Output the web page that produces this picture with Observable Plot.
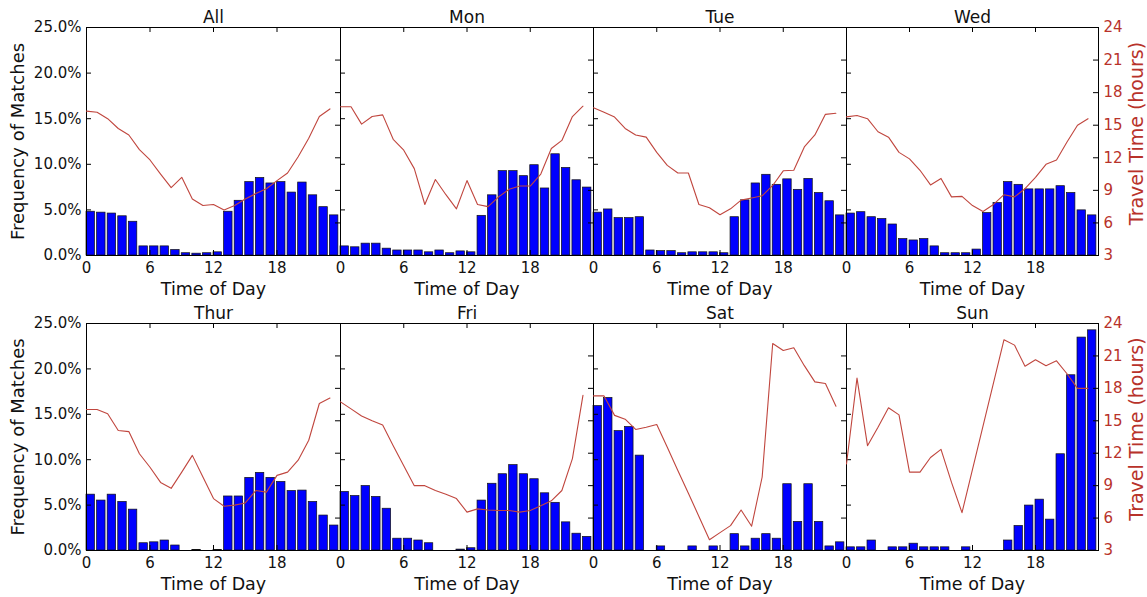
<!DOCTYPE html>
<html>
<head>
<meta charset="utf-8">
<script src="https://cdn.jsdelivr.net/npm/d3@7"></script>
<script src="https://cdn.jsdelivr.net/npm/@observablehq/plot@0.6"></script>
<style>
  html, body { margin: 0; padding: 0; background: #fff; }
  #chart { position: relative; width: 1147px; height: 597px; overflow: hidden; font-family: "DejaVu Sans", sans-serif; color: #111; }
  #chart svg { position: absolute; }
</style>
</head>
<body>
<div id="chart"></div>
<script>
// ---- data ----
const hours = d3.range(24);
const panels = ["All", "Mon", "Tue", "Wed", "Thur", "Fri", "Sat", "Sun"];
const xTickValues = [0, 6, 12, 18];
const freqTickValues = [0, 5, 10, 15, 20, 25];
const travelTickValues = [3, 6, 9, 12, 15, 18, 21, 24];

// Frequency of matches (%) per hour
const freqAll  = [4.8, 4.7, 4.6, 4.3, 3.7, 1.0, 1.0, 1.0, 0.6, 0.25, 0.2, 0.25, 0.35, 4.8, 6.0, 8.05, 8.5, 7.9, 8.05, 6.9, 8.0, 6.6, 5.3, 4.4];
const freqMon  = [1.0, 0.9, 1.3, 1.3, 0.75, 0.55, 0.55, 0.55, 0.35, 0.55, 0.25, 0.45, 0.35, 4.35, 6.6, 9.25, 9.25, 8.7, 9.9, 7.35, 11.1, 9.6, 8.25, 7.45];
const freqTue  = [4.7, 5.05, 4.1, 4.1, 4.2, 0.55, 0.48, 0.48, 0.25, 0.35, 0.35, 0.35, 0.25, 4.2, 6.05, 7.9, 8.85, 7.75, 8.35, 7.2, 8.4, 6.85, 5.95, 4.4];
const freqWed  = [4.6, 4.75, 4.2, 4.0, 3.4, 1.8, 1.65, 1.8, 1.0, 0.25, 0.25, 0.25, 0.65, 4.65, 5.75, 8.05, 7.75, 7.25, 7.25, 7.25, 7.6, 6.85, 4.95, 4.4];
const freqThur = [6.15, 5.5, 6.15, 5.35, 4.5, 0.8, 0.9, 1.1, 0.55, 0, 0.05, 0, 0.05, 5.95, 5.95, 8.0, 8.55, 8.0, 7.55, 6.55, 6.6, 5.35, 3.85, 2.75];
const freqFri  = [6.45, 6.0, 7.1, 5.9, 4.6, 1.3, 1.3, 1.1, 0.8, 0, 0, 0.1, 0.25, 5.5, 7.35, 8.4, 9.4, 8.4, 7.85, 6.3, 5.25, 3.1, 1.85, 1.5];
const freqSat  = [15.9, 16.8, 13.15, 13.6, 10.45, 0, 0.45, 0, 0, 0.45, 0, 0.45, 0, 1.8, 0.45, 1.3, 1.8, 1.3, 7.3, 3.15, 7.3, 3.15, 0.45, 0.9];
const freqSun  = [0.35, 0.35, 1.1, 0, 0.35, 0.35, 0.75, 0.35, 0.35, 0.35, 0, 0.35, 0, 0, 0, 1.1, 2.7, 4.95, 5.6, 3.4, 10.6, 19.3, 23.45, 24.25];

// Travel time (hours) per hour
const travelAll  = [16.3, 16.2, 15.6, 14.7, 14.1, 12.75, 11.8, 10.5, 9.25, 10.2, 8.2, 7.6, 7.7, 7.2, 7.6, 8.2, 8.7, 9.15, 9.9, 10.6, 12.1, 13.8, 15.8, 16.5];
const travelMon  = [16.7, 16.7, 15.1, 15.8, 15.95, 13.7, 12.7, 11.0, 7.7, 10.0, 8.6, 7.3, 9.9, 7.7, 7.5, 8.4, 9.1, 9.4, 9.4, 10.5, 12.85, 13.6, 15.8, 16.75];
const travelTue  = [16.6, 16.2, 15.75, 14.7, 14.1, 13.9, 12.5, 11.3, 10.6, 10.6, 7.7, 7.4, 6.75, 7.3, 8.1, 8.3, 8.5, 9.45, 10.8, 10.85, 13.0, 14.1, 16.0, 16.1];
const travelWed  = [15.77, 15.9, 15.6, 14.4, 13.9, 12.5, 11.9, 10.85, 9.5, 10.1, 8.4, 8.45, 7.6, 7.05, 7.7, 8.6, 8.4, 9.15, 10.2, 11.4, 11.8, 13.45, 15.0, 15.6];
const travelThur = [16.05, 16.05, 15.65, 14.1, 14.0, 11.95, 10.7, 9.3, 8.75, 10.25, 11.8, 9.8, 7.8, 7.1, 7.2, 7.4, 8.55, 8.4, 9.95, 10.25, 11.35, 13.2, 16.6, 17.1];
const travelFri  = [16.75, 16.1, 15.45, 15.0, 14.6, 12.7, 10.85, 9.0, 9.0, 8.55, 8.2, 7.8, 6.55, 6.85, 6.75, 6.7, 6.7, 6.55, 6.7, 7.15, 7.6, 8.55, 11.5, 17.35];
const travelSat  = [17.3, 17.3, 15.5, 15.15, 14.2, 14.4, 14.65, 12.55, 10.4, 8.3, 6.15, 4.0, 4.65, 5.3, 6.75, 5.25, 9.8, 22.15, 21.5, 21.75, 20.1, 18.6, 18.45, 16.35];
const travelSun  = [11.0, 18.95, 12.7, 14.4, 16.2, 15.55, 10.25, 10.25, 11.6, 12.35, 9.3, 6.5, 10.5, 14.5, 18.5, 22.5, 22.0, 20.05, 20.65, 20.1, 20.55, 19.35, 18.0, 18.0];

const freqs = [freqAll, freqMon, freqTue, freqWed, freqThur, freqFri, freqSat, freqSun];
const travels = [travelAll, travelMon, travelTue, travelWed, travelThur, travelFri, travelSat, travelSun];

// ---- layout ----
const colX = [86, 340, 593, 846];
const colW = [254, 253, 253, 252];
const rowTop = [27, 323];
const rowH = [228, 227];
const ML = 95, MR = 60, MT = 30, MB = 50;
const RED = "#b8322a";
const LINE = "#c0463e";
const FONT = "DejaVu Sans";

const chart = document.getElementById("chart");

panels.forEach((name, i) => {
  const col = i % 4, row = Math.floor(i / 4);
  const W = colW[col], H = rowH[row];
  const barData = hours.map(h => ({h, v: freqs[i][h]})).filter(d => d.v > 0);
  const lineData = hours.map(h => ({h, t: travels[i][h]}));
  const common = {
    width: W + ML + MR, height: H + MT + MB,
    marginLeft: ML, marginRight: MR, marginTop: MT, marginBottom: MB,
    style: {background: "transparent", overflow: "visible", fontFamily: FONT, color: "#111"}
  };

  const barMarks = [
    Plot.rectY(barData, {x1: d => d.h, x2: d => d.h + 0.8, y: "v", fill: "#0000ff", stroke: "#111", strokeWidth: 0.7}),
    Plot.frame({stroke: "#000", strokeWidth: 1}),
    Plot.axisX({ticks: xTickValues, tickSize: 0, tickPadding: 7, fontSize: 15, label: null}),
    Plot.tickX(xTickValues, {x: d => d, insetTop: H - 5, stroke: "#000"}),
    Plot.tickX(xTickValues, {x: d => d, insetBottom: H - 5, stroke: "#000"}),
    Plot.tickY(freqTickValues, {y: d => d, insetRight: W - 5, stroke: "#000"}),
    Plot.text([name], {frameAnchor: "top", dy: -5, lineAnchor: "bottom", fontSize: 17, fill: "#111"}),
    Plot.text(["Time of Day"], {frameAnchor: "bottom", dy: 34, lineAnchor: "middle", textAnchor: "middle", fontSize: 17.5, fill: "#111"})
  ];
  if (col === 0) {
    barMarks.push(
      Plot.axisY({ticks: freqTickValues, tickSize: 0, tickPadding: 5, fontSize: 15, label: null, tickFormat: d => d.toFixed(1) + "%"}),
      Plot.text(["Frequency of Matches"], {frameAnchor: "left", rotate: -90, dx: -68, textAnchor: "middle", lineAnchor: "middle", fontSize: 18, fill: "#111"})
    );
  }
  const barPlot = Plot.plot({
    ...common,
    x: {domain: [0, 24], axis: null},
    y: {domain: [0, 25], axis: null},
    marks: barMarks
  });

  const lineMarks = [
    Plot.line(lineData, {x: "h", y: "t", stroke: LINE, strokeWidth: 1.1}),
    Plot.tickY(travelTickValues, {y: d => d, insetLeft: W - 5, stroke: "#000"})
  ];
  if (col === 3) {
    lineMarks.push(
      Plot.axisY({anchor: "right", ticks: travelTickValues, tickSize: 0, tickPadding: 5, fontSize: 15, label: null, color: RED}),
      Plot.text(["Travel Time (hours)"], {frameAnchor: "right", rotate: -90, dx: 38, dy: -8, textAnchor: "middle", lineAnchor: "middle", fontSize: 19, fill: RED})
    );
  }
  const linePlot = Plot.plot({
    ...common,
    x: {domain: [0, 24], axis: null},
    y: {domain: [3, 24], axis: null},
    marks: lineMarks
  });

  [barPlot, linePlot].forEach(svg => {
    svg.style.position = "absolute";
    svg.style.left = (colX[col] - ML) + "px";
    svg.style.top = (rowTop[row] - MT) + "px";
    chart.appendChild(svg);
  });
});
</script>
</body>
</html>
